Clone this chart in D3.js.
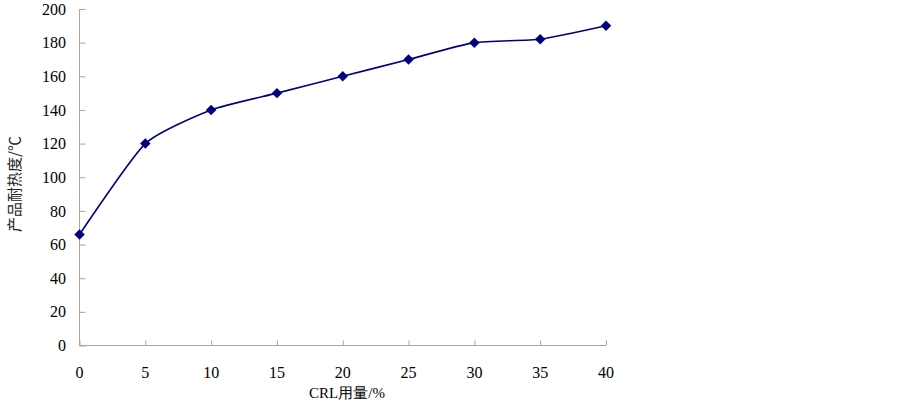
<!DOCTYPE html>
<html>
<head>
<meta charset="utf-8">
<script src="https://cdn.jsdelivr.net/npm/d3@7"></script>
<style>
  body { margin: 0; background: #fff; }
  text { font-family: "Liberation Serif", "Times New Roman", serif; }
  .cjk { font-family: "Noto Sans CJK SC", sans-serif; }
</style>
</head>
<body>
<div id="chart"></div>
<script>
const xValues = [0, 5, 10, 15, 20, 25, 30, 35, 40];
const yValues = [66, 120, 140, 150, 160, 170, 180, 182, 190];
const xTicks = [0, 5, 10, 15, 20, 25, 30, 35, 40];
const yTicks = [0, 20, 40, 60, 80, 100, 120, 140, 160, 180, 200];

const width = 903, height = 404;
const plotLeft = 79.5, plotRight = 606, plotTop = 9, plotBottom = 345.5;

const svg = d3.select("#chart").append("svg")
  .attr("width", width)
  .attr("height", height);

const x = d3.scaleLinear().domain([0, 40]).range([plotLeft, plotRight]);
const y = d3.scaleLinear().domain([0, 200]).range([plotBottom, plotTop]);

const axisColor = "#a6a6a6";

// y axis: ticks point into the plot
const gy = svg.append("g").attr("transform", `translate(${plotLeft},0)`)
  .call(d3.axisRight(y).tickValues(yTicks).tickSize(6).tickFormat(""));
gy.select(".domain").attr("stroke", axisColor).attr("d", `M0,${plotTop}V${plotBottom}`);
gy.selectAll(".tick line").attr("stroke", axisColor);

svg.append("g").selectAll("text")
  .data(yTicks).enter().append("text")
  .attr("x", 66)
  .attr("y", d => y(d))
  .attr("dy", "0.35em")
  .attr("text-anchor", "end")
  .attr("font-size", 16)
  .attr("fill", "#000")
  .text(d => d);

// x axis: ticks point up
const gx = svg.append("g").attr("transform", `translate(0,${plotBottom})`)
  .call(d3.axisTop(x).tickValues(xTicks).tickSize(5).tickFormat(""));
gx.select(".domain").attr("stroke", axisColor).attr("d", `M${plotLeft},0H${plotRight}`);
gx.selectAll(".tick line").attr("stroke", axisColor);

svg.append("g").selectAll("text")
  .data(xTicks).enter().append("text")
  .attr("x", d => x(d))
  .attr("y", 378)
  .attr("text-anchor", "middle")
  .attr("font-size", 16)
  .attr("fill", "#000")
  .text(d => d);

// axis titles
svg.append("text")
  .attr("x", 347)
  .attr("y", 398)
  .attr("text-anchor", "middle")
  .attr("font-size", 15)
  .text("CRL用量/%");

svg.append("text")
  .attr("class", "cjk")
  .attr("transform", "translate(20,184) rotate(-90)")
  .attr("text-anchor", "middle")
  .attr("font-size", 15)
  .attr("fill", "#222")
  .text("产品耐热度/℃");

const data = xValues.map((d, i) => ({ x: d, y: yValues[i] }));

const line = d3.line()
  .x(d => x(d.x))
  .y(d => y(d.y))
  .curve(d3.curveCardinal.tension(0.45));

svg.append("path")
  .datum(data)
  .attr("fill", "none")
  .attr("stroke", "#000080")
  .attr("stroke-width", 1.6)
  .attr("d", line);

svg.append("g").selectAll("path")
  .data(data).enter().append("path")
  .attr("transform", d => `translate(${x(d.x)},${y(d.y)})`)
  .attr("d", d3.symbol().type(d3.symbolDiamond2).size(70))
  .attr("fill", "#000080");
</script>
</body>
</html>
